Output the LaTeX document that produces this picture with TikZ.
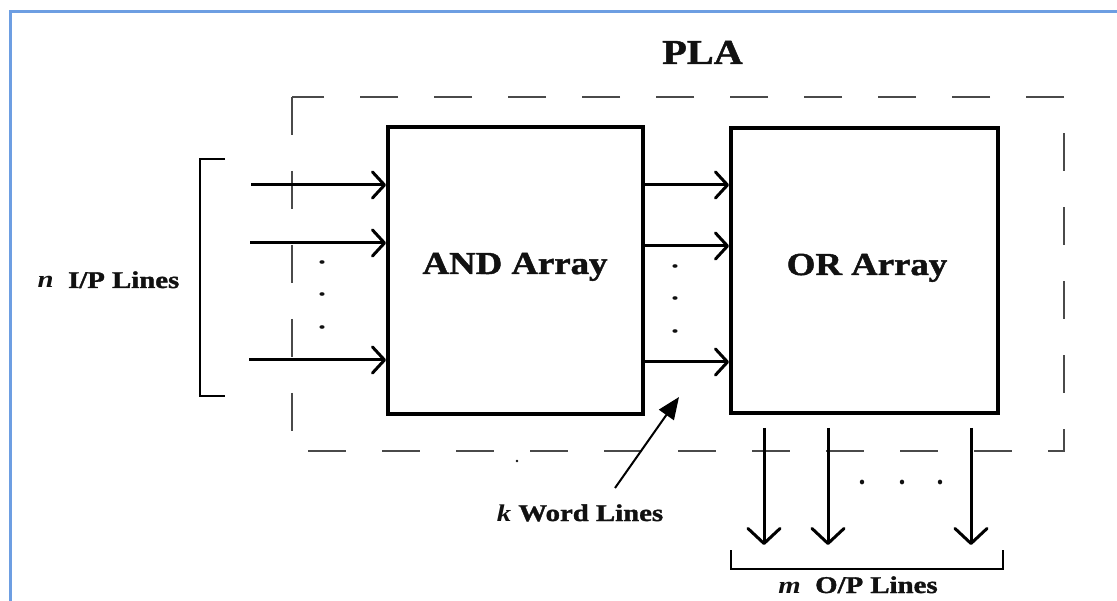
\documentclass[tikz,border=0pt]{standalone}
\usepackage{fontspec}
\setmainfont{Liberation Serif}[BoldFeatures={FakeBold=1.3}]
\usetikzlibrary{arrows.meta}
\newcommand{\bigtxt}[1]{\scalebox{1.15}[1]{\fontsize{32}{36}\selectfont\bfseries #1}}
\newcommand{\platxt}[1]{\scalebox{1.15}[1]{\fontsize{35}{38}\selectfont\bfseries #1}}
\newcommand{\smtxt}[1]{\scalebox{1.2}[1]{\fontsize{24}{28}\selectfont\bfseries #1}}
\definecolor{frameblue}{HTML}{6D9EE2}
\definecolor{dashgray}{HTML}{4A4A4A}
\definecolor{ink}{HTML}{111111}
\begin{document}
\begin{tikzpicture}[x=1pt,y=-1pt,
  blk/.style={draw=black, line width=4pt, inner sep=0pt},
  dashbox/.style={draw=dashgray, line width=2.5pt, dash pattern=on 38pt off 36pt},
  inarr/.style={line width=3pt, -{Straight Barb[length=12pt,width=26pt,round]}},
  outarr/.style={line width=3pt, -{Straight Barb[length=15pt,width=32pt,round]}},
  ptr/.style={line width=2pt, -{Triangle[length=22pt,width=18pt]}},
  brk/.style={line width=2.5pt},
  dotm/.style={fill=ink, draw=none},
  txt/.style={text=ink, inner sep=0pt, anchor=base}]
\clip (0,0) rectangle (1117,601);
\fill[white] (0,0) rectangle (1117,601);
% outer light-blue frame (continues beyond the picture)
\draw[frameblue, line width=3pt] (10,12) rectangle (1140,640);

% dashed PLA boundary
\draw[dashbox] (292,97) rectangle (1064,451);
\node[txt] (pla) at (702.5,64) {\platxt{PLA}};

% blocks
\node[blk, minimum width=255pt, minimum height=287pt] (and) at (515.5,270.5) {};
\node[blk, minimum width=267pt, minimum height=285pt] (or) at (864.5,270.5) {};
\node[txt] (andl) at (515,274) {\bigtxt{AND Array}};
\node[txt] (orl) at (867,275) {\bigtxt{OR Array}};

% input lines
\coordinate (i1) at (251,185);
\coordinate (i2) at (250,243);
\coordinate (i3) at (249,360);
\draw[inarr] (i1) -- (and.west |- i1);
\draw[inarr] (i2) -- (and.west |- i2);
\draw[inarr] (i3) -- (and.west |- i3);
\foreach \yy in {262,294,327} \fill[dotm] (322,\yy) ellipse (2.6pt and 1.8pt);
\draw[brk] (225,159) -- (200,159) -- (200,396) -- (225,396);
\node[txt] (inl) at (108.5,288) {\smtxt{\textit{n}\ \ I/P Lines}};

% word lines
\coordinate (w1) at (643,185);
\coordinate (w2) at (643,246);
\coordinate (w3) at (643,362);
\draw[inarr] (and.east |- w1) -- (or.west |- w1);
\draw[inarr] (and.east |- w2) -- (or.west |- w2);
\draw[inarr] (and.east |- w3) -- (or.west |- w3);
\foreach \yy in {266,298,331} \fill[dotm] (675,\yy) ellipse (2.6pt and 1.8pt);
\coordinate (kp) at (615,488);
\coordinate (kt) at (679,397);
\draw[ptr] (kp) -- (kt);
\node[txt] (kl) at (580,521) {\smtxt{\textit{k} Word Lines}};
\fill[dotm] (517,461) circle (1.3pt);

% output lines
\coordinate (o1s) at (764,428);
\coordinate (o2s) at (828,428);
\coordinate (o3s) at (971,428);
\coordinate (o1e) at (764,545);
\coordinate (o2e) at (828,545);
\coordinate (o3e) at (971,545);
\draw[outarr] (o1s) -- (o1e);
\draw[outarr] (o2s) -- (o2e);
\draw[outarr] (o3s) -- (o3e);
\foreach \xx in {862,902,940} \fill[dotm] (\xx,482) ellipse (2.2pt and 2.4pt);
\draw[brk] (731,550) -- (731,569) -- (1003,569) -- (1003,550);
\node[txt] (outl) at (858,593) {\smtxt{\textit{m}\ \ O/P Lines}};
\end{tikzpicture}
\end{document}
